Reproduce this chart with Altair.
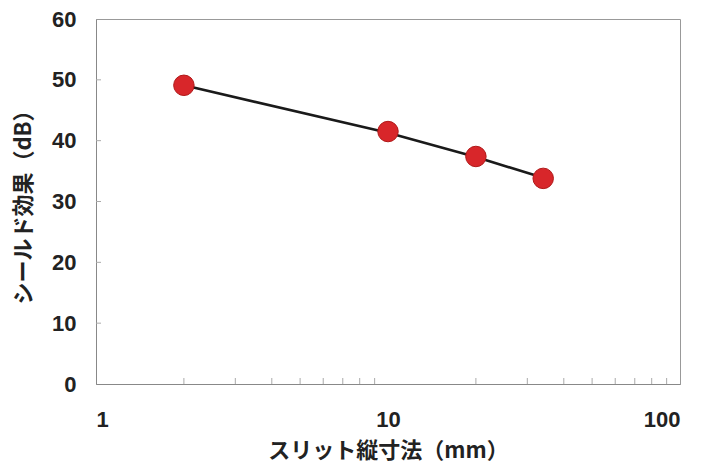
import altair as alt
import pandas as pd

# measured points
slit_mm = [2, 10, 20, 34]
shield_db = [49.1, 41.5, 37.4, 33.8]

# fitted line
line_x = [2, 10, 20, 34]
line_y = [49.1, 41.3, 37.3, 33.9]

x_ticks = [1, 10, 100]
x_minor = [2, 3, 4, 5, 6, 7, 8, 9, 20, 30, 40, 50, 60, 70, 80, 90]
y_ticks = [0, 10, 20, 30, 40, 50, 60]

pts = pd.DataFrame({"x": slit_mm, "y": shield_db})
ln = pd.DataFrame({"x": line_x, "y": line_y})
minor = pd.DataFrame({"x": x_minor})
ymin = pd.DataFrame({"y": y_ticks[1:-1]})

FONT = "Liberation Sans"
JFONT = "Noto Sans CJK JP"
xscale = alt.Scale(type="log", domain=[1, 100])
yscale = alt.Scale(domain=[0, 60])

xaxis = alt.Axis(values=x_ticks, format="d", title="スリット縦寸法（mm）",
                 labelFont=FONT, labelFontSize=22, labelFontWeight="bold",
                 labelColor="#222", labelPadding=25, ticks=False,
                 domainColor="#888", domainWidth=1,
                 titleFont=JFONT, titleFontSize=22, titleFontWeight="bold",
                 titleColor="#222", titlePadding=10, grid=False)
yaxis = alt.Axis(values=y_ticks, title="シールド効果（dB）",
                 labelFont=FONT, labelFontSize=22, labelFontWeight="bold",
                 labelColor="#222", labelPadding=20, ticks=False,
                 domainColor="#888", domainWidth=1,
                 titleFont=JFONT, titleFontSize=22, titleFontWeight="bold",
                 titleColor="#222", titlePadding=16, grid=False)

line = alt.Chart(ln).mark_line(color="#1a1a1a", strokeWidth=2.6).encode(
    x=alt.X("x:Q", scale=xscale, axis=xaxis),
    y=alt.Y("y:Q", scale=yscale, axis=yaxis),
)

points = alt.Chart(pts).mark_point(filled=True, size=420, color="#d8262a",
                                   stroke="#b01818", strokeWidth=1, opacity=1).encode(
    x=alt.X("x:Q", scale=xscale),
    y=alt.Y("y:Q", scale=yscale),
)

xminor = alt.Chart(minor).mark_rule(color="#aaa", strokeWidth=1).encode(
    x=alt.X("x:Q", scale=xscale),
    y=alt.value(365), y2=alt.value(359),
)
yminor = alt.Chart(ymin).mark_rule(color="#aaa", strokeWidth=1).encode(
    y=alt.Y("y:Q", scale=yscale),
    x=alt.value(0), x2=alt.value(5),
)

chart = alt.layer(xminor, yminor, line, points).properties(
    width=584, height=365,
    padding={"left": 96, "top": 19, "right": 22, "bottom": 85},
    autosize=alt.AutoSizeParams(type="none"),
    background="white",
).configure_view(stroke="#999", strokeWidth=1)

chart.save("out.html", embed_options={"renderer": "svg", "actions": False})
